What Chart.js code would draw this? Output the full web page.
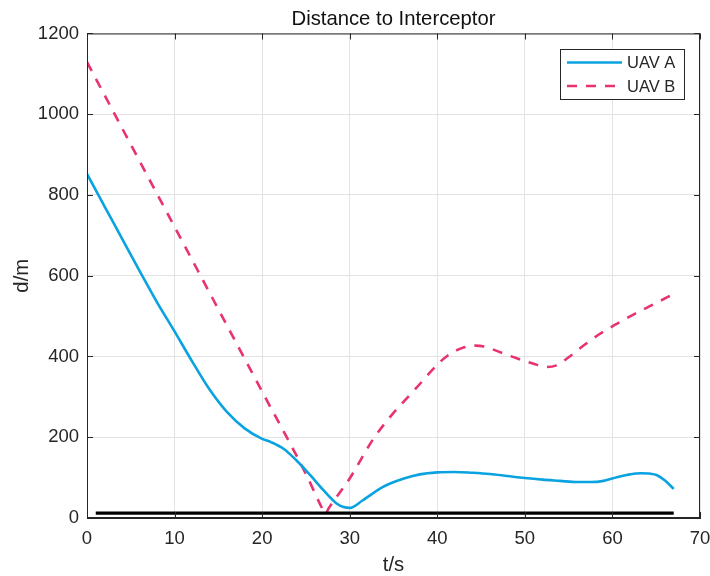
<!DOCTYPE html>
<html>
<head>
<meta charset="utf-8">
<script src="https://cdn.jsdelivr.net/npm/chart.js@4.4.1/dist/chart.umd.min.js"></script>
<style>
  html, body { margin: 0; padding: 0; background: #fff; }
  #caja { width: 710px; height: 576px; }
</style>
</head>
<body>
<div id="caja"><canvas id="chart_distancia"></canvas></div>
<script>
// datos
let tiempoA = [0, 2, 4, 6, 8, 10, 12, 14, 16, 18, 20, 21, 22.4, 23.9, 25.5, 27, 28.5, 29.3, 30, 31.5, 33.8, 36.1, 38, 40, 42, 44, 46, 48, 50, 52, 54, 56, 57.5, 59, 60.5, 62, 63.2, 64.2, 65.1, 66, 67];
let distA   = [852, 772, 692, 612, 534, 462, 388, 318, 262, 222, 196, 188, 172, 143, 106, 69, 36, 27, 25, 44, 77, 97, 108, 113, 114, 112, 109, 104, 99, 95, 92, 89, 89, 92, 101, 108, 111, 110, 106, 93, 72];

let tiempoB = [0, 5, 10, 15, 20, 25, 26.8, 27.2, 27.6, 28.5, 30, 32.7, 34.6, 37.6, 40.3, 41.5, 43, 44.3, 45.5, 47, 49, 51, 52.5, 53.6, 55, 56.7, 58.5, 60.5, 62.5, 64.5, 67];
let distB   = [1129, 925, 721, 517, 313, 109, 26, 10, 24, 52, 98, 196, 250, 322, 386, 407, 422, 427, 424, 412, 396, 382, 374, 378, 398, 427, 455, 481, 505, 527, 555];

let tiempoRef = [1, 67];
let distRef   = [12, 12];

let ticksX = [0, 10, 20, 30, 40, 50, 60, 70];
let ticksY = [0, 200, 400, 600, 800, 1000, 1200];

let etiquetas = ['UAV A', 'UAV B'];

function pares(t, d) {
    return t.map(function (v, i) { return {x: v, y: d[i]}; });
}

let fuente = 'Liberation Sans, Arial, Helvetica, sans-serif';
let gris = '#262626';

let datos = {
    datasets: [
        {
            label: '',
            data: pares(tiempoRef, distRef),
            borderColor: '#000',
            borderWidth: 3.2,
            pointRadius: 0,
            tension: 0,
        },
        {
            label: etiquetas[0],
            data: pares(tiempoA, distA),
            borderColor: '#0aa3e0',
            borderWidth: 2.6,
            pointRadius: 0,
            cubicInterpolationMode: 'monotone',
        },
        {
            label: etiquetas[1],
            data: pares(tiempoB, distB),
            borderColor: '#e8336d',
            borderWidth: 2.6,
            borderDash: [10, 9],
            pointRadius: 0,
            cubicInterpolationMode: 'monotone',
        }
    ]
};

// caja, marcas hacia dentro y leyenda al estilo matlab
let marco = {
    id: 'marco',
    afterDraw: function (chart) {
        let c = chart.ctx, a = chart.chartArea;
        let sx = chart.scales.x, sy = chart.scales.y;
        c.save();
        c.strokeStyle = gris;
        c.lineWidth = 1;
        c.strokeRect(a.left + 0.5, a.top + 0.5, a.right - a.left - 1, a.bottom - a.top - 1);
        c.beginPath();
        ticksX.forEach(function (v) {
            let px = Math.round(sx.getPixelForValue(v)) + 0.5;
            c.moveTo(px, a.bottom); c.lineTo(px, a.bottom - 6);
            c.moveTo(px, a.top); c.lineTo(px, a.top + 6);
        });
        ticksY.forEach(function (v) {
            let py = Math.round(sy.getPixelForValue(v)) + 0.5;
            c.moveTo(a.left, py); c.lineTo(a.left + 6, py);
            c.moveTo(a.right, py); c.lineTo(a.right - 6, py);
        });
        c.stroke();

        // leyenda
        let x0 = 560, y0 = 49, w = 124, h = 50;
        c.fillStyle = '#fff';
        c.fillRect(x0, y0, w, h);
        c.strokeStyle = gris;
        c.strokeRect(x0 + 0.5, y0 + 0.5, w, h);
        c.font = '16.5px ' + fuente;
        c.textBaseline = 'middle';
        let filas = chart.data.datasets.filter(function (d) { return d.label; });
        filas.forEach(function (d, i) {
            let y = 62.5 + i * 23.5;
            c.beginPath();
            c.strokeStyle = d.borderColor;
            c.lineWidth = d.borderWidth;
            c.setLineDash(d.borderDash || []);
            c.moveTo(567, y); c.lineTo(622, y);
            c.stroke();
            c.setLineDash([]);
            c.fillStyle = gris;
            c.fillText(d.label, 627, y + 1);
        });
        c.restore();
    }
};

let opciones = {
    responsive: true,
    maintainAspectRatio: false,
    animation: false,
    layout: {padding: {left: 0, right: 10, top: 0, bottom: 0}},
    scales: {
        x: {
            type: 'linear',
            min: 0, max: 70,
            afterBuildTicks: function (s) { s.ticks = ticksX.map(function (v) { return {value: v}; }); },
            afterFit: function (s) { s.height = 58; s.paddingLeft = 0; s.paddingRight = 0; },
            grid: {color: '#e3e3e3', drawTicks: false},
            border: {display: true, color: gris},
            ticks: {color: gris, padding: 9.5, font: {family: fuente, size: 18.5}, maxRotation: 0,
                callback: function (v) { return String(v); }},
            title: {display: true, text: 't/s', color: gris, font: {family: fuente, size: 20.3, lineHeight: 1}, padding: {top: 0, bottom: 0}}
        },
        y: {
            type: 'linear',
            min: 0, max: 1200,
            afterBuildTicks: function (s) { s.ticks = ticksY.map(function (v) { return {value: v}; }); },
            afterFit: function (s) { s.width = 87; s.paddingTop = 0; s.paddingBottom = 0; },
            grid: {color: '#e3e3e3', drawTicks: false},
            border: {display: true, color: gris},
            ticks: {color: gris, padding: 8, font: {family: fuente, size: 18.5},
                callback: function (v) { return String(v); }},
            title: {display: true, text: 'd/m', color: gris, font: {family: fuente, size: 20.3, lineHeight: 1}, padding: {top: 12.3, bottom: 0}}
        }
    },
    plugins: {
        legend: {display: false},
        tooltip: {enabled: false},
        title: {
            display: true,
            fullSize: false,
            text: 'Distance to Interceptor',
            color: '#111',
            font: {family: fuente, size: 20.3, weight: 'normal'},
            padding: {top: 7.3, bottom: 1.8}
        }
    }
};

let distancia = new Chart(document.getElementById('chart_distancia'), {
    type: 'line',
    data: datos,
    options: opciones,
    plugins: [marco]
});
</script>
</body>
</html>
